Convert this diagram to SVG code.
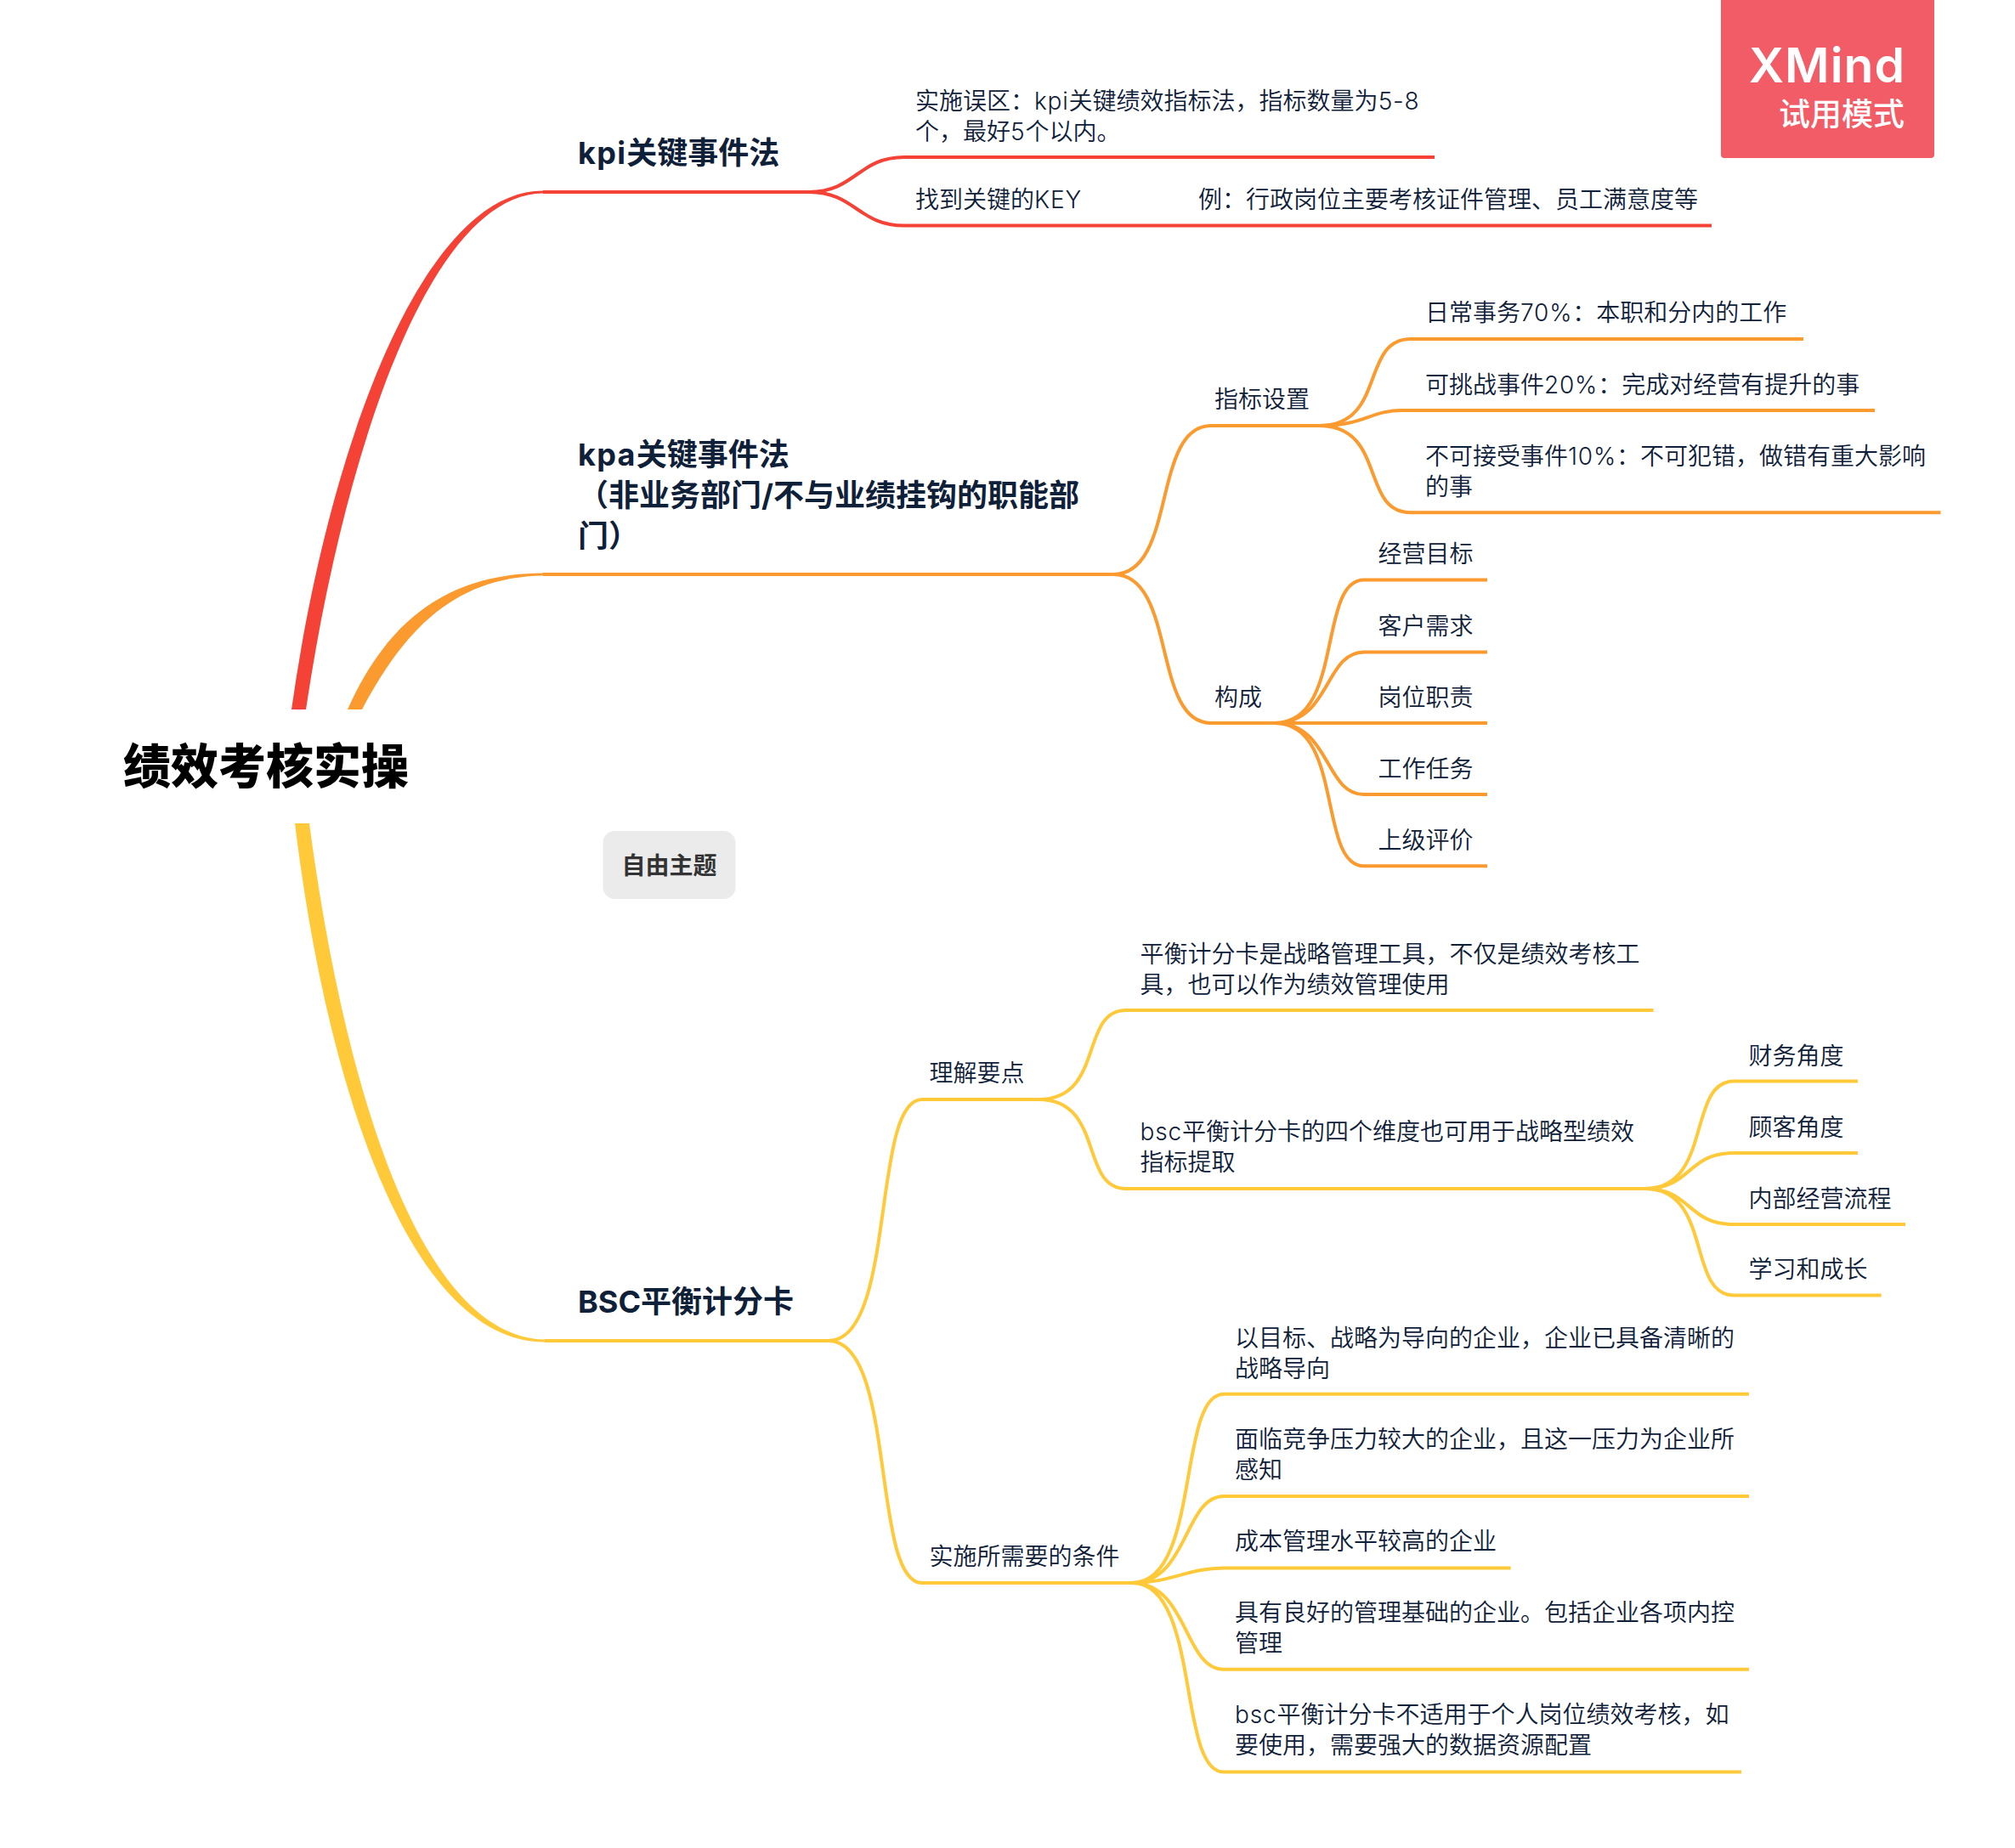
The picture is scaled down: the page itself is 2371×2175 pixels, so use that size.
<svg xmlns="http://www.w3.org/2000/svg" width="2371" height="2175" viewBox="0 0 2371 2175">
<style>
text{font-family:Inter,"Noto Sans CJK SC",sans-serif;fill:#0f2039;white-space:pre}
.c{font-size:56px;font-weight:900;fill:#000}
.t{font-size:36px;font-weight:700}
.s{font-size:28px;font-weight:350}
.f{font-size:28px;font-weight:700;fill:#333}
.a{letter-spacing:.8px}
.b{letter-spacing:1.3px}
.w{fill:#fff}
.l{fill:none;stroke-width:4}
.r{stroke:#f44336}.o{stroke:#fb9a2e}.y{stroke:#ffc93a}
</style>
<rect width="2371" height="2175" fill="#fff"/>
<g id="connectors">
<path d="M343 835C386.500 527 497 224.300 639 224.500V227.500C505 229 405 533 360 835Z" fill="#f44336"/>
<path d="M409 835C456 730 527 675 639 674.500V677.500C536 679 476 740 426 835Z" fill="#fb9a2e"/>
<path d="M347 969C386 1291 486 1580 641 1579.500V1576.500C497 1574 406 1288 364 969Z" fill="#ffc93a"/>
<path class="l r" d="M639 226H952C1006 226 1010 185 1064 185H1688"/>
<path class="l r" d="M952 226C1006 226 1010 265.500 1064 265.500H2014"/>
<path class="l o" d="M639 676H1310C1385 676 1355 501 1425 501H1560"/>
<path class="l o" d="M1310 676C1385 676 1355 851 1425 851H1507"/>
<path class="l o" d="M1552 501C1632 501 1600 399 1660 399H2122"/>
<path class="l o" d="M1552 501C1606 501 1612 483 1650 483H2206"/>
<path class="l o" d="M1552 501C1632 501 1600 603.300 1660 603.300H2283.500"/>
<path class="l o" d="M1500 851C1582 851 1550 682.600 1605 682.600H1750"/>
<path class="l o" d="M1500 851C1566 851 1558 767.500 1605 767.500H1750"/>
<path class="l o" d="M1500 851H1750"/>
<path class="l o" d="M1500 851C1566 851 1558 935 1605 935H1750"/>
<path class="l o" d="M1500 851C1582 851 1550 1019.300 1605 1019.300H1750"/>
<path class="l y" d="M641 1578H975C1055 1578 1025 1294 1085 1294H1222"/>
<path class="l y" d="M975 1578C1055 1578 1025 1863 1085 1863H1332"/>
<path class="l y" d="M1222 1294C1300 1294 1270 1189 1325 1189H1945.600"/>
<path class="l y" d="M1222 1294C1300 1294 1270 1399 1325 1399H1936"/>
<path class="l y" d="M1936 1399C2015 1399 1985 1272.500 2040 1272.500H2186"/>
<path class="l y" d="M1936 1399C1990 1399 1985 1357 2040 1357H2186"/>
<path class="l y" d="M1936 1399C1990 1399 1985 1441 2040 1441H2242"/>
<path class="l y" d="M1936 1399C2015 1399 1985 1524.500 2040 1524.500H2213.700"/>
<path class="l y" d="M1332 1863C1413 1863 1385 1640.800 1440 1640.800H2058"/>
<path class="l y" d="M1332 1863C1398 1863 1393 1761 1440 1761H2058"/>
<path class="l y" d="M1332 1863C1378 1863 1398 1845.400 1440 1845.400H1777.600"/>
<path class="l y" d="M1332 1863C1398 1863 1393 1964.800 1440 1964.800H2058"/>
<path class="l y" d="M1332 1863C1413 1863 1385 2085.600 1440 2085.600H2049"/>
</g>
<g id="central"><text class="c" x="145" y="922">绩效考核实操</text></g>
<g id="free"><rect x="709.500" y="978" width="156" height="80" rx="14" fill="#ebebeb"/><text class="f" x="731.500" y="1028.500">自由主题</text></g>
<g id="kpi"><text class="t" x="680" y="193"><tspan class="b">kpi</tspan>关键事件法</text></g>
<g id="kpi-1"><text class="s" x="1077" y="128.500">实施误区：<tspan class="a">kpi</tspan>关键绩效指标法，指标数量为<tspan class="a">5-8</tspan></text><text class="s" x="1077" y="165">个，最好<tspan class="a">5</tspan>个以内。</text></g>
<g id="kpi-2"><text class="s" x="1077" y="244.500">找到关键的<tspan class="a">KEY</tspan></text><text class="s" x="1410" y="244.500">例：行政岗位主要考核证件管理、员工满意度等</text></g>
<g id="kpa"><text class="t" x="680" y="548"><tspan class="b">kpa</tspan>关键事件法</text><text class="t" x="680" y="596">（非业务部门/不与业绩挂钩的职能部</text><text class="t" x="680" y="644">门）</text></g>
<g id="kpa-a"><text class="s" x="1429" y="480">指标设置</text></g>
<g id="kpa-a1"><text class="s" x="1677" y="378">日常事务<tspan class="a">70%</tspan>：本职和分内的工作</text></g>
<g id="kpa-a2"><text class="s" x="1677" y="462.500">可挑战事件<tspan class="a">20%</tspan>：完成对经营有提升的事</text></g>
<g id="kpa-a3"><text class="s" x="1677" y="546.500">不可接受事件<tspan class="a">10%</tspan>：不可犯错，做错有重大影响</text><text class="s" x="1677" y="583">的事</text></g>
<g id="kpa-b"><text class="s" x="1429" y="831">构成</text></g>
<g id="kpa-b1"><text class="s" x="1621.500" y="662">经营目标</text></g>
<g id="kpa-b2"><text class="s" x="1621.500" y="747">客户需求</text></g>
<g id="kpa-b3"><text class="s" x="1621.500" y="831">岗位职责</text></g>
<g id="kpa-b4"><text class="s" x="1621.500" y="915">工作任务</text></g>
<g id="kpa-b5"><text class="s" x="1621.500" y="999">上级评价</text></g>
<g id="bsc"><text class="t" x="680" y="1545">BSC平衡计分卡</text></g>
<g id="bsc-a"><text class="s" x="1093.500" y="1273">理解要点</text></g>
<g id="bsc-a1"><text class="s" x="1341.500" y="1132.500">平衡计分卡是战略管理工具，不仅是绩效考核工</text><text class="s" x="1341.500" y="1168.500">具，也可以作为绩效管理使用</text></g>
<g id="bsc-a2"><text class="s" x="1341.500" y="1342"><tspan class="a">bsc</tspan>平衡计分卡的四个维度也可用于战略型绩效</text><text class="s" x="1341.500" y="1378">指标提取</text></g>
<g id="bsc-a21"><text class="s" x="2057.500" y="1252.500">财务角度</text></g>
<g id="bsc-a22"><text class="s" x="2057.500" y="1336.500">顾客角度</text></g>
<g id="bsc-a23"><text class="s" x="2057.500" y="1420.500">内部经营流程</text></g>
<g id="bsc-a24"><text class="s" x="2057.500" y="1504">学习和成长</text></g>
<g id="bsc-b"><text class="s" x="1093.500" y="1842">实施所需要的条件</text></g>
<g id="bsc-b1"><text class="s" x="1453" y="1584.500">以目标、战略为导向的企业，企业已具备清晰的</text><text class="s" x="1453" y="1620.500">战略导向</text></g>
<g id="bsc-b2"><text class="s" x="1453" y="1704">面临竞争压力较大的企业，且这一压力为企业所</text><text class="s" x="1453" y="1740">感知</text></g>
<g id="bsc-b3"><text class="s" x="1453" y="1824">成本管理水平较高的企业</text></g>
<g id="bsc-b4"><text class="s" x="1453" y="1908">具有良好的管理基础的企业。包括企业各项内控</text><text class="s" x="1453" y="1944">管理</text></g>
<g id="bsc-b5"><text class="s" x="1453" y="2028"><tspan class="a">bsc</tspan>平衡计分卡不适用于个人岗位绩效考核，如</text><text class="s" x="1453" y="2064">要使用，需要强大的数据资源配置</text></g>
<g id="watermark"><path d="M2025 0H2276V182Q2276 186 2272 186H2029Q2025 186 2025 182Z" fill="#f25c66"/><text class="w" x="2242" y="97" text-anchor="end" font-size="57" font-weight="600" letter-spacing="1">XMind</text><text class="w" x="2241" y="148" text-anchor="end" font-size="37" font-weight="500">试用模式</text></g>
</svg>
